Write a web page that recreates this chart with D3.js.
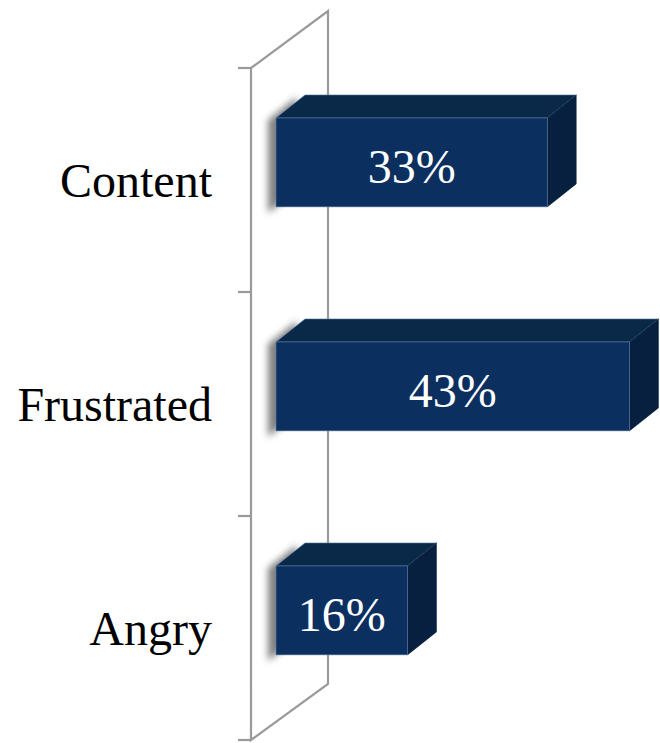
<!DOCTYPE html>
<html><head><meta charset="utf-8">
<script src="https://cdn.jsdelivr.net/npm/d3@7"></script>
<style>body{margin:0;background:#fff}svg{display:block}</style>
</head><body>
<svg id="c" width="660" height="743"></svg>
<script>
const categories = ["Content", "Frustrated", "Angry"];
const values = [33, 43, 16];
const valueLabels = ["33%", "43%", "16%"];

const svg = d3.select("#c");
const defs = svg.append("defs");
defs.append("filter").attr("id","blur").attr("x","-50%").attr("y","-50%").attr("width","200%").attr("height","200%")
  .append("feGaussianBlur").attr("stdDeviation", 3.5);

const y = d3.scaleBand().domain(categories).range([68, 740]);
const x = d3.scaleLinear().domain([0, 50]).range([276, 687]);
const dx = 29, dy = -23; // depth offset
const wallX = 251;

// wall
const wallColor = "#9a9a9a";
const wall = svg.append("g").attr("stroke", wallColor).attr("stroke-width", 2.2).attr("fill","none");
wall.append("path").attr("d", `M${wallX},${y.range()[0]} L${wallX+77},${y.range()[0]-57} L${wallX+77},${y.range()[1]-56} L${wallX},${y.range()[1]}Z`);
const tickPos = categories.map(c => y(c)).concat([y.range()[1]]);
wall.selectAll("line.tick").data(tickPos).join("line")
  .attr("x1", wallX-13).attr("x2", wallX).attr("y1", d=>d).attr("y2", d=>d);

// category labels
svg.append("g").selectAll("text").data(categories).join("text")
  .attr("x", 212).attr("y", d => y(d) + y.bandwidth()/2)
  .attr("text-anchor","end").attr("dominant-baseline","central")
  .attr("font-family","'Liberation Serif', 'Times New Roman', serif")
  .attr("font-size", 48).attr("fill","#000").text(d=>d);

// bars
const bars = svg.append("g").selectAll("g").data(categories.map((c,i)=>({c, v:values[i], l:valueLabels[i]}))).join("g");
const top0 = d => y(d.c) + y.bandwidth()*0.223;
const h = y.bandwidth()*0.397;
const x0 = x(0);

// shadow
bars.append("path")
  .attr("d", d => {
    const t = top0(d), b = t + h;
    return `M${x0-8},${t+2} L${x0+dx-8},${t+dy+2} L${x0+dx-8},${b+dy+6} L${x0-8},${b+6}Z`;
  })
  .attr("fill","#6a6a6a").attr("opacity",0.85).attr("filter","url(#blur)");

// top face
bars.append("path")
  .attr("d", d => {
    const t = top0(d), xr = x(d.v);
    return `M${x0},${t} L${x0+dx},${t+dy} L${xr+dx},${t+dy} L${xr},${t}Z`;
  })
  .attr("fill","#0a2848").attr("stroke","#5f7ea3").attr("stroke-width",0.6);
// right face
bars.append("path")
  .attr("d", d => {
    const t = top0(d), b = t + h, xr = x(d.v);
    return `M${xr},${t} L${xr+dx},${t+dy} L${xr+dx},${b+dy} L${xr},${b}Z`;
  })
  .attr("fill","#08203f").attr("stroke","#08203f").attr("stroke-width",0.5);
// front face
bars.append("rect")
  .attr("x", x0).attr("y", d => top0(d))
  .attr("width", d => x(d.v) - x0).attr("height", h)
  .attr("fill","#0b2f5f").attr("stroke","#5f7ea3").attr("stroke-width",0.6);

// value labels
bars.append("text")
  .attr("x", d => (x0 + x(d.v))/2).attr("y", d => top0(d) + h/2 + 4)
  .attr("text-anchor","middle").attr("dominant-baseline","central")
  .attr("font-family","'Liberation Serif', 'Times New Roman', serif")
  .attr("font-size", 48).attr("fill","#fff").text(d=>d.l);
</script>
</body></html>
